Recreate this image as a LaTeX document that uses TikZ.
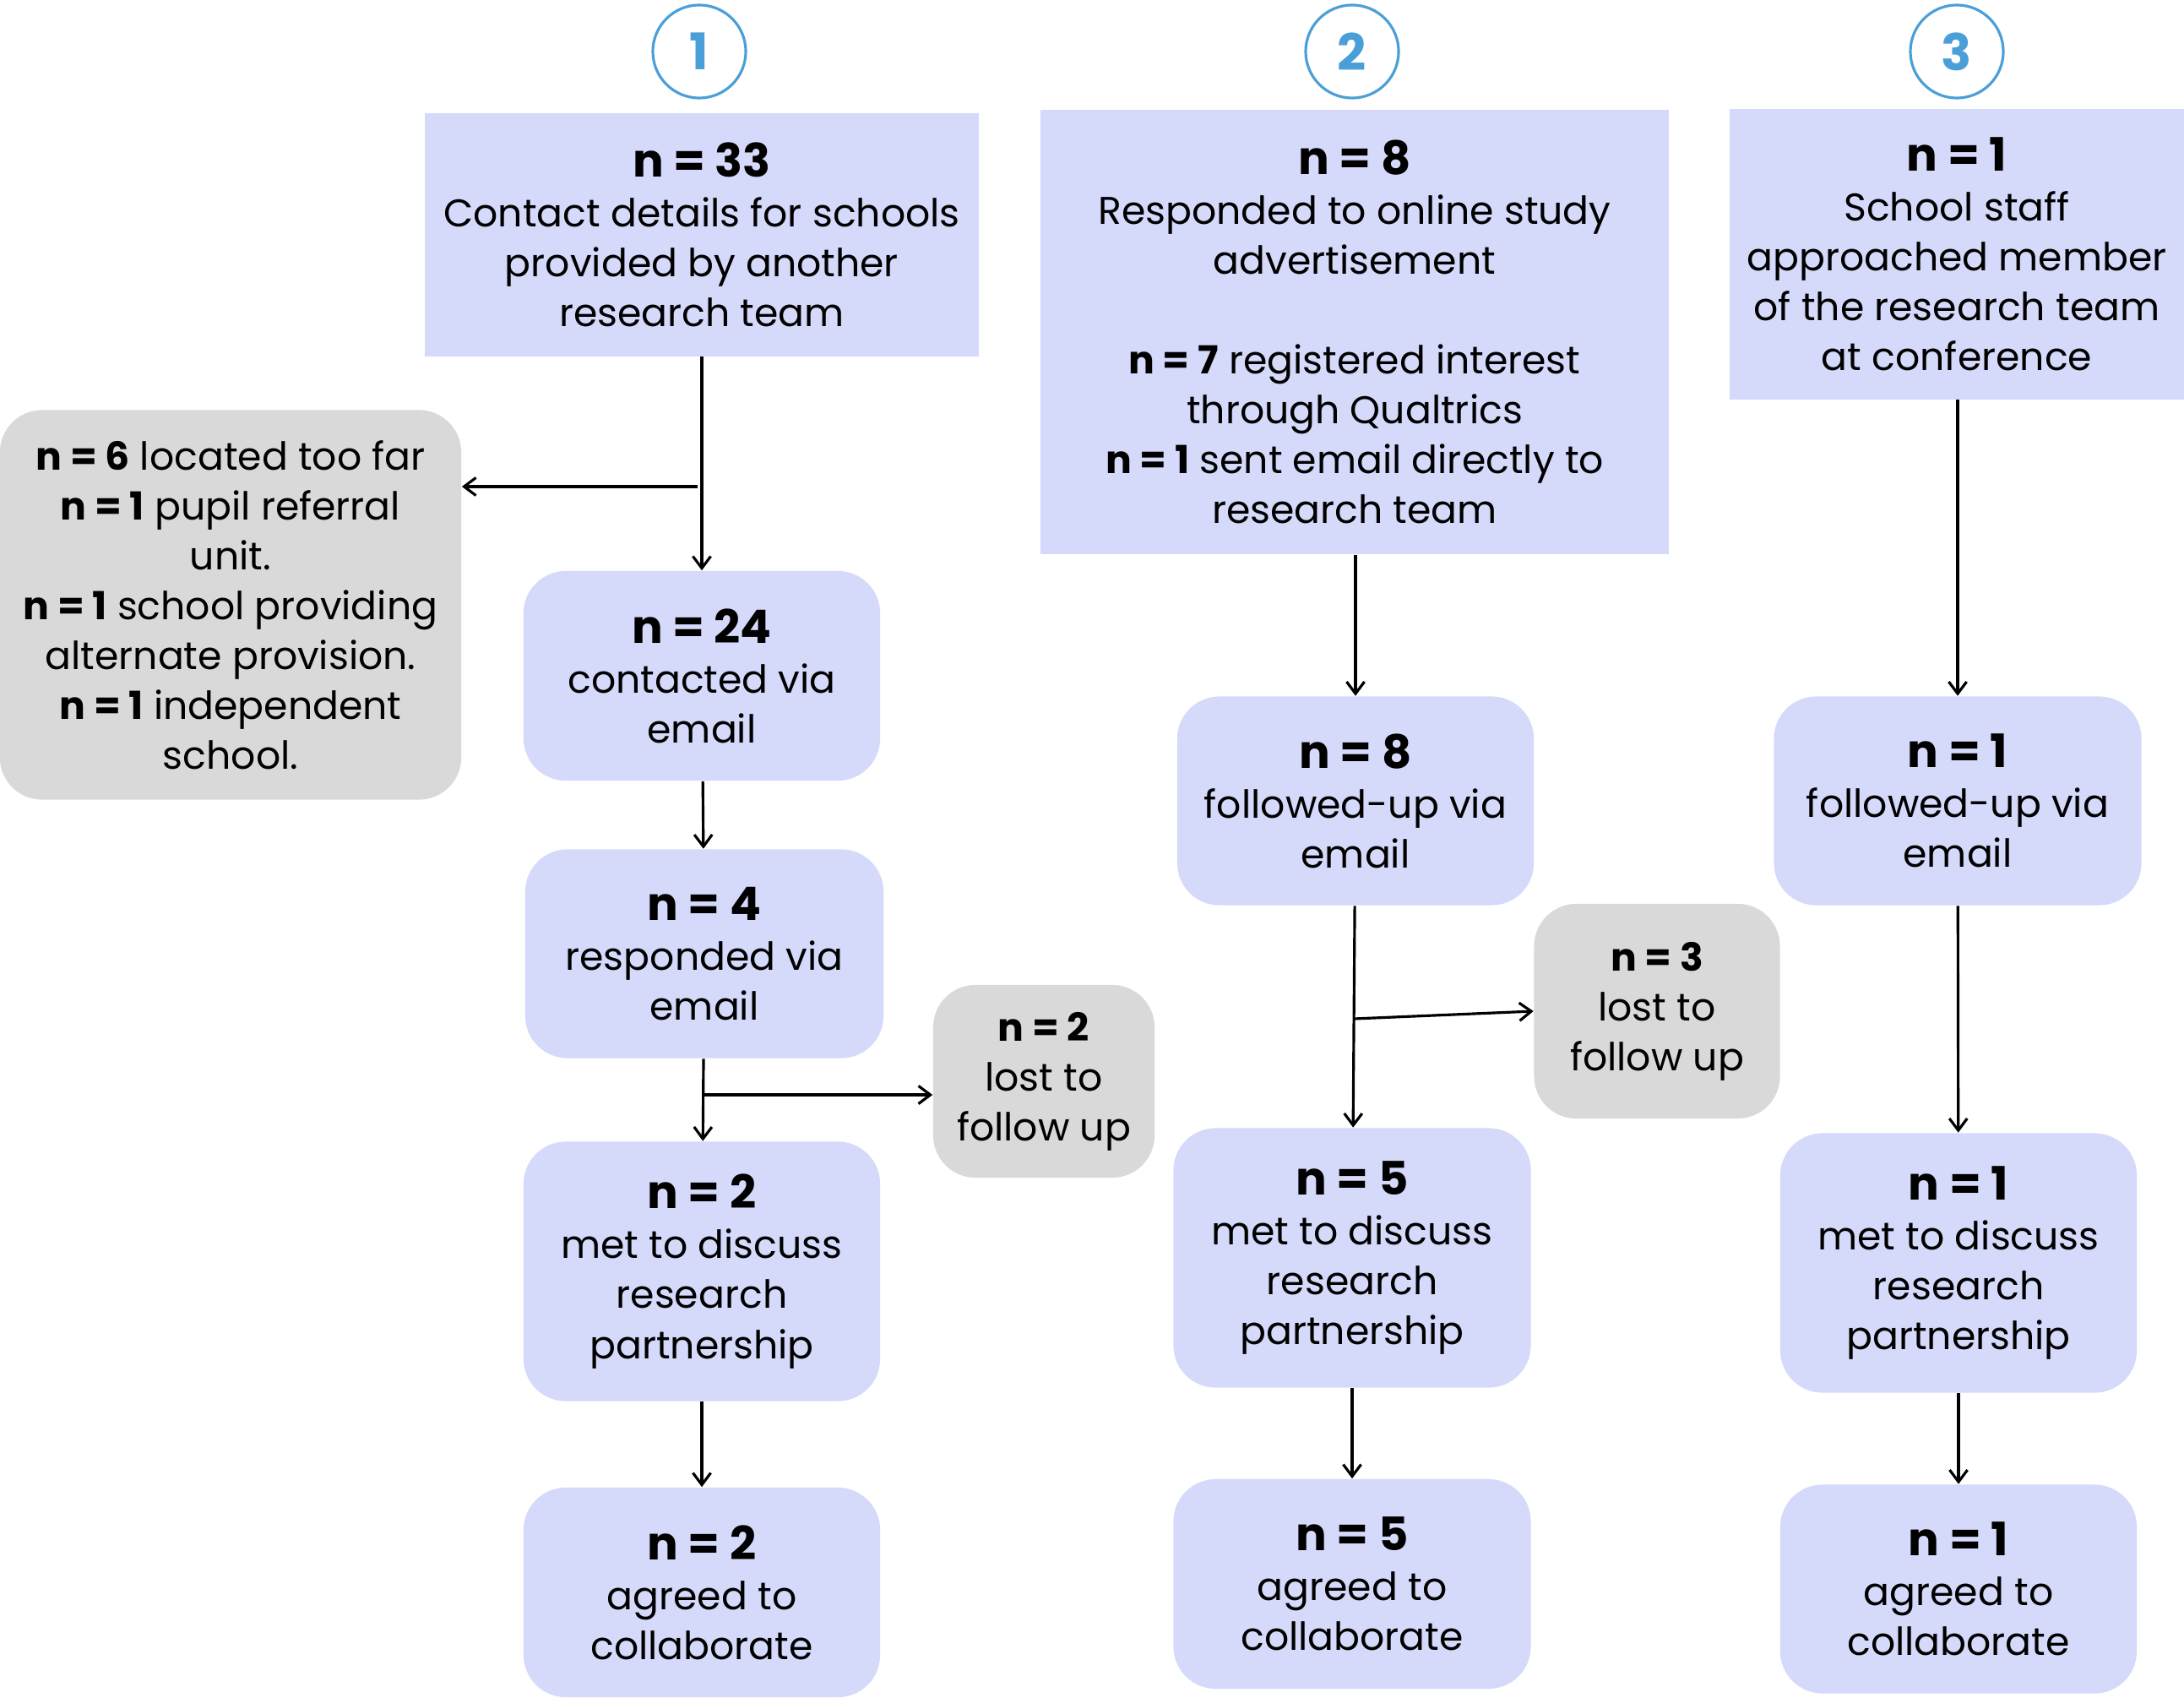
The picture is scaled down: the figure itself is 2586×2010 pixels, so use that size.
\documentclass[tikz,border=0pt]{standalone}
\usepackage{fontspec}
\setmainfont{Poppins}
\usetikzlibrary{arrows.meta}
\definecolor{boxblue}{HTML}{D5D9FA}
\definecolor{boxgrey}{HTML}{D9D9D9}
\definecolor{ringblue}{HTML}{4A9FD8}
\newcommand{\nhead}[1]{{\fontsize{15.5}{19}\selectfont\bfseries #1}}

\begin{document}
\begin{tikzpicture}[x=0.01cm, y=-0.01cm,
	font=\fontsize{13}{16.8}\selectfont,
	base/.style={align=center, inner sep=0pt, text=black},
	stage/.style={base, fill=boxblue, rounded corners=0.5cm},
	source/.style={base, fill=boxblue},
	drop/.style={base, fill=boxgrey, rounded corners=0.5cm},
	num/.style={circle, draw=ringblue, line width=0.9pt, minimum size=1.1cm, inner sep=0pt,
		text=ringblue, font=\fontsize{17}{17}\selectfont\bfseries},
	arr/.style={-{Straight Barb[length=4pt, width=6pt]}, line width=0.9pt}]
	\useasboundingbox (0,0) rectangle (2586,2010);
	%route numbers
	\foreach \i/\x in {1/828,2/1601,3/2317}
	\node[num] (c\i) at (\x,61) {\i};
	%sources
	\node[source, minimum width=6.56cm, minimum height=2.87cm] (top1) at (831,278)
	{\nhead{n = 33}\\Contact details for schools\\provided by another\\research team};
	\node[source, minimum width=7.44cm, minimum height=5.26cm] (top2) at (1604,393)
	{\nhead{n = 8}\\Responded to online study\\advertisement\\[16.8pt]
		\textbf{n = 7} registered interest\\through Qualtrics\\
		\textbf{n = 1} sent email directly to\\research team};
	\node[source, minimum width=5.38cm, minimum height=3.43cm] (top3) at (2317,301)
	{\nhead{n = 1}\\School staff\\approached member\\of the research team\\at conference};
	%route 1
	\node[drop, minimum width=5.46cm, minimum height=4.61cm] (excl) at (273,716)
	{\textbf{n = 6} located too far\\\textbf{n = 1} pupil referral\\unit.\\
		\textbf{n = 1} school providing\\alternate provision.\\\textbf{n = 1} independent\\school.};
	\node[stage, minimum width=4.22cm, minimum height=2.48cm] (cont1) at (831,800)
	{\nhead{n = 24}\\contacted via\\email};
	\node[stage, minimum width=4.24cm, minimum height=2.47cm] (resp1) at (834,1129)
	{\nhead{n = 4}\\responded via\\email};
	\node[drop, minimum width=2.62cm, minimum height=2.28cm] (lost1) at (1236,1280)
	{\textbf{n = 2}\\lost to\\follow up};
	\node[stage, minimum width=4.22cm, minimum height=3.07cm] (met1) at (831,1505)
	{\nhead{n = 2}\\met to discuss\\research\\partnership};
	\node[stage, minimum width=4.22cm, minimum height=2.48cm] (agr1) at (831,1885)
	{\nhead{n = 2}\\agreed to\\collaborate};
	%route 2
	\node[stage, minimum width=4.22cm, minimum height=2.47cm] (fol2) at (1605,948)
	{\nhead{n = 8}\\followed-up via\\email};
	\node[drop, minimum width=2.91cm, minimum height=2.54cm] (lost2) at (1962,1197)
	{\textbf{n = 3}\\lost to\\follow up};
	\node[stage, minimum width=4.23cm, minimum height=3.07cm] (met2) at (1601,1489)
	{\nhead{n = 5}\\met to discuss\\research\\partnership};
	\node[stage, minimum width=4.23cm, minimum height=2.48cm] (agr2) at (1601,1875)
	{\nhead{n = 5}\\agreed to\\collaborate};
	%route 3
	\node[stage, minimum width=4.35cm, minimum height=2.47cm] (fol3) at (2318,948)
	{\nhead{n = 1}\\followed-up via\\email};
	\node[stage, minimum width=4.22cm, minimum height=3.07cm] (met3) at (2319,1495)
	{\nhead{n = 1}\\met to discuss\\research\\partnership};
	\node[stage, minimum width=4.22cm, minimum height=2.47cm] (agr3) at (2319,1881)
	{\nhead{n = 1}\\agreed to\\collaborate};
	%arrows
	\draw[arr] (top1) -- (cont1);
	\coordinate (j1) at (826,576);
	\draw[arr] (j1) -- (j1 -| excl.east);
	\draw[arr] (cont1) -- (resp1);
	\draw[arr] (resp1) -- (met1);
	\coordinate (j2) at (834,1296);
	\draw[arr] (j2) -- (j2 -| lost1.west);
	\draw[arr] (met1) -- (agr1);
	\draw[arr] (top2.south -| fol2) -- (fol2);
	\draw[arr] (fol2) -- (met2);
	\coordinate (j3) at (1603,1206);
	\draw[arr] (j3) -- (lost2.west);
	\draw[arr] (met2) -- (agr2);
	\draw[arr] (top3.south -| fol3) -- (fol3);
	\draw[arr] (fol3) -- (met3);
	\draw[arr] (met3) -- (agr3);
\end{tikzpicture}
\end{document}
